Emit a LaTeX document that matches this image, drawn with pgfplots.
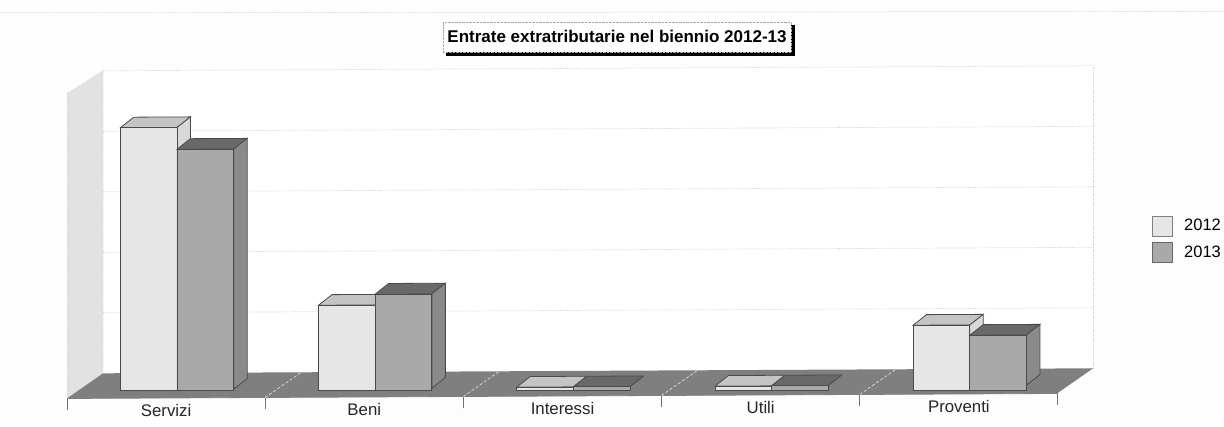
\documentclass[border=0pt]{standalone}
\usepackage{fontspec}
\setmainfont{Liberation Sans}
\usepackage{pgfplots}
\pgfplotsset{compat=1.18}
\usetikzlibrary{shadows}
\definecolor{bgc}{HTML}{FDFDFD}
\definecolor{fa}{HTML}{E6E6E6}
\definecolor{ta}{HTML}{C4C4C4}
\definecolor{sa}{HTML}{D8D8D8}
\definecolor{fb}{HTML}{A9A9A9}
\definecolor{tb}{HTML}{696969}
\definecolor{sb}{HTML}{8A8A8A}
\definecolor{floorc}{HTML}{7F7F7F}
\definecolor{wallc}{HTML}{E2E2E2}
\definecolor{edgec}{HTML}{4A4A4A}
\definecolor{gridc}{HTML}{CFCFCF}
\newcommand{\face}[2]{\addplot[forget plot,fill=#1,draw=edgec,line width=0.8pt] coordinates {#2} --cycle;}
\begin{document}
\begin{tikzpicture}[x=1pt,y=1pt]
\path[use as bounding box,fill=bgc] (0,0) rectangle (1224,426);
\begin{axis}[
  at={(67pt,36pt)},anchor=origin,
  x={(198.2pt,1pt)},y={(0pt,60.5pt)},
  clip=false,
  xmin=0,xmax=4.995,ymin=-0.14,ymax=5.3,
  axis x line=bottom,axis y line=none,
  x axis line style={-,draw=gray,line width=0.8pt},
  xtick={0.5,1.5,2.5,3.5,4.5},
  xticklabels={Servizi,Beni,Interessi,Utili,Proventi},
  major tick length=0pt,
  xticklabel style={font=\fontsize{16.8}{18}\selectfont,text=black!85,yshift=-2.5pt},
  extra x ticks={0,1,2,3,4,4.995},
  extra x tick labels={},
  extra x tick style={major tick length=12pt,tick style={draw=gray!90!black,line width=0.9pt},tick align=outside},
  legend style={at={(axis cs:5.46,2.40)},anchor=west,draw=none,fill=none,row sep=6pt,
    font=\fontsize{16.5}{18}\selectfont},
  legend cell align=left,
]
% walls
\addplot[forget plot,fill=white,draw=none] coordinates {(0.182,0.273)(5.177,0.273)(5.177,5.273)(0.182,5.273)} --cycle;
\addplot[forget plot,fill=wallc,draw=gridc,line width=0.5pt,densely dotted] coordinates {(0,-0.14)(0.182,0.273)(0.182,5.273)(0,4.9)} --cycle;
% grid
\addplot[forget plot,gridc,densely dotted,line width=0.7pt] coordinates {(0.182,1.273)(5.177,1.273)};
\addplot[forget plot,gridc,densely dotted,line width=0.7pt] coordinates {(0.182,2.273)(5.177,2.273)};
\addplot[forget plot,gridc,densely dotted,line width=0.7pt] coordinates {(0.182,3.273)(5.177,3.273)};
\addplot[forget plot,gridc,densely dotted,line width=0.7pt] coordinates {(0.182,4.273)(5.177,4.273)};
\addplot[forget plot,gridc,densely dotted,line width=0.7pt] coordinates {(0.182,5.273)(5.177,5.273)};
\addplot[forget plot,gridc,densely dotted,line width=0.7pt] coordinates {(5.177,0.273)(5.177,5.273)};
% floor
\addplot[forget plot,fill=floorc,draw=none] coordinates {(0,-0.14)(4.995,-0.14)(5.177,0.273)(0.182,0.273)} --cycle;
\addplot[forget plot,white!75!gray,densely dashed,line width=0.7pt] coordinates {(1,-0.14)(1.182,0.273)};
\addplot[forget plot,white!75!gray,densely dashed,line width=0.7pt] coordinates {(2,-0.14)(2.182,0.273)};
\addplot[forget plot,white!75!gray,densely dashed,line width=0.7pt] coordinates {(3,-0.14)(3.182,0.273)};
\addplot[forget plot,white!75!gray,densely dashed,line width=0.7pt] coordinates {(4,-0.14)(4.182,0.273)};
% 2012 depth faces
\face{ta}{(0.269,4.33)(0.555,4.33)(0.623,4.504)(0.337,4.504)}
\face{sa}{(0.555,0)(0.623,0.174)(0.623,4.504)(0.555,4.33)}
\face{ta}{(1.269,1.38)(1.555,1.38)(1.623,1.554)(1.337,1.554)}
\face{sa}{(1.555,0)(1.623,0.174)(1.623,1.554)(1.555,1.38)}
\face{ta}{(2.269,0.01)(2.555,0.01)(2.623,0.184)(2.337,0.184)}
\face{ta}{(3.269,0.01)(3.555,0.01)(3.623,0.184)(3.337,0.184)}
\face{ta}{(4.269,1.0)(4.555,1.0)(4.623,1.174)(4.337,1.174)}
\face{sa}{(4.555,0)(4.623,0.174)(4.623,1.174)(4.555,1.0)}
% 2012 fronts
\addplot[ybar,bar width=56.7pt,fill=fa,draw=edgec,line width=0.8pt,
  legend image code/.code={\draw[fill=fa,draw=gray] (0pt,-10pt) rectangle (20pt,10pt);\path (29pt,0pt);}]
  coordinates {(0.412,4.33)(1.412,1.38)(2.412,0.01)(3.412,0.01)(4.412,1.0)};
\addlegendentry{2012}
% 2013 depth faces
\face{tb}{(0.555,3.97)(0.841,3.97)(0.909,4.144)(0.623,4.144)}
\face{sb}{(0.841,0)(0.909,0.174)(0.909,4.144)(0.841,3.97)}
\face{tb}{(1.555,1.56)(1.841,1.56)(1.909,1.734)(1.623,1.734)}
\face{sb}{(1.841,0)(1.909,0.174)(1.909,1.734)(1.841,1.56)}
\face{tb}{(2.555,0.01)(2.841,0.01)(2.909,0.184)(2.623,0.184)}
\face{tb}{(3.555,0.01)(3.841,0.01)(3.909,0.184)(3.623,0.184)}
\face{tb}{(4.555,0.83)(4.841,0.83)(4.909,1.004)(4.623,1.004)}
\face{sb}{(4.841,0)(4.909,0.174)(4.909,1.004)(4.841,0.83)}
% 2013 fronts
\addplot[ybar,bar width=56.7pt,fill=fb,draw=edgec,line width=0.8pt,
  legend image code/.code={\draw[fill=fb,draw=gray!80!black] (0pt,-10pt) rectangle (20pt,10pt);\path (29pt,0pt);}]
  coordinates {(0.698,3.97)(1.698,1.56)(2.698,0.01)(3.698,0.01)(4.698,0.83)};
\addlegendentry{2013}
% top rule
\addplot[forget plot,gridc,densely dotted,line width=0.7pt] coordinates {(-0.338,6.24)(5.838,6.16)};
% title
\node[draw=gray!70,densely dotted,fill=white,minimum width=348pt,minimum height=30pt,inner sep=0pt,
  general shadow={fill=black,draw=black,solid,shadow xshift=3pt,shadow yshift=-3pt},
  font=\fontsize{17}{19}\bfseries\selectfont] at (axis cs:2.775,5.79) {Entrate extratributarie nel biennio 2012-13};
\end{axis}
\end{tikzpicture}
\end{document}
